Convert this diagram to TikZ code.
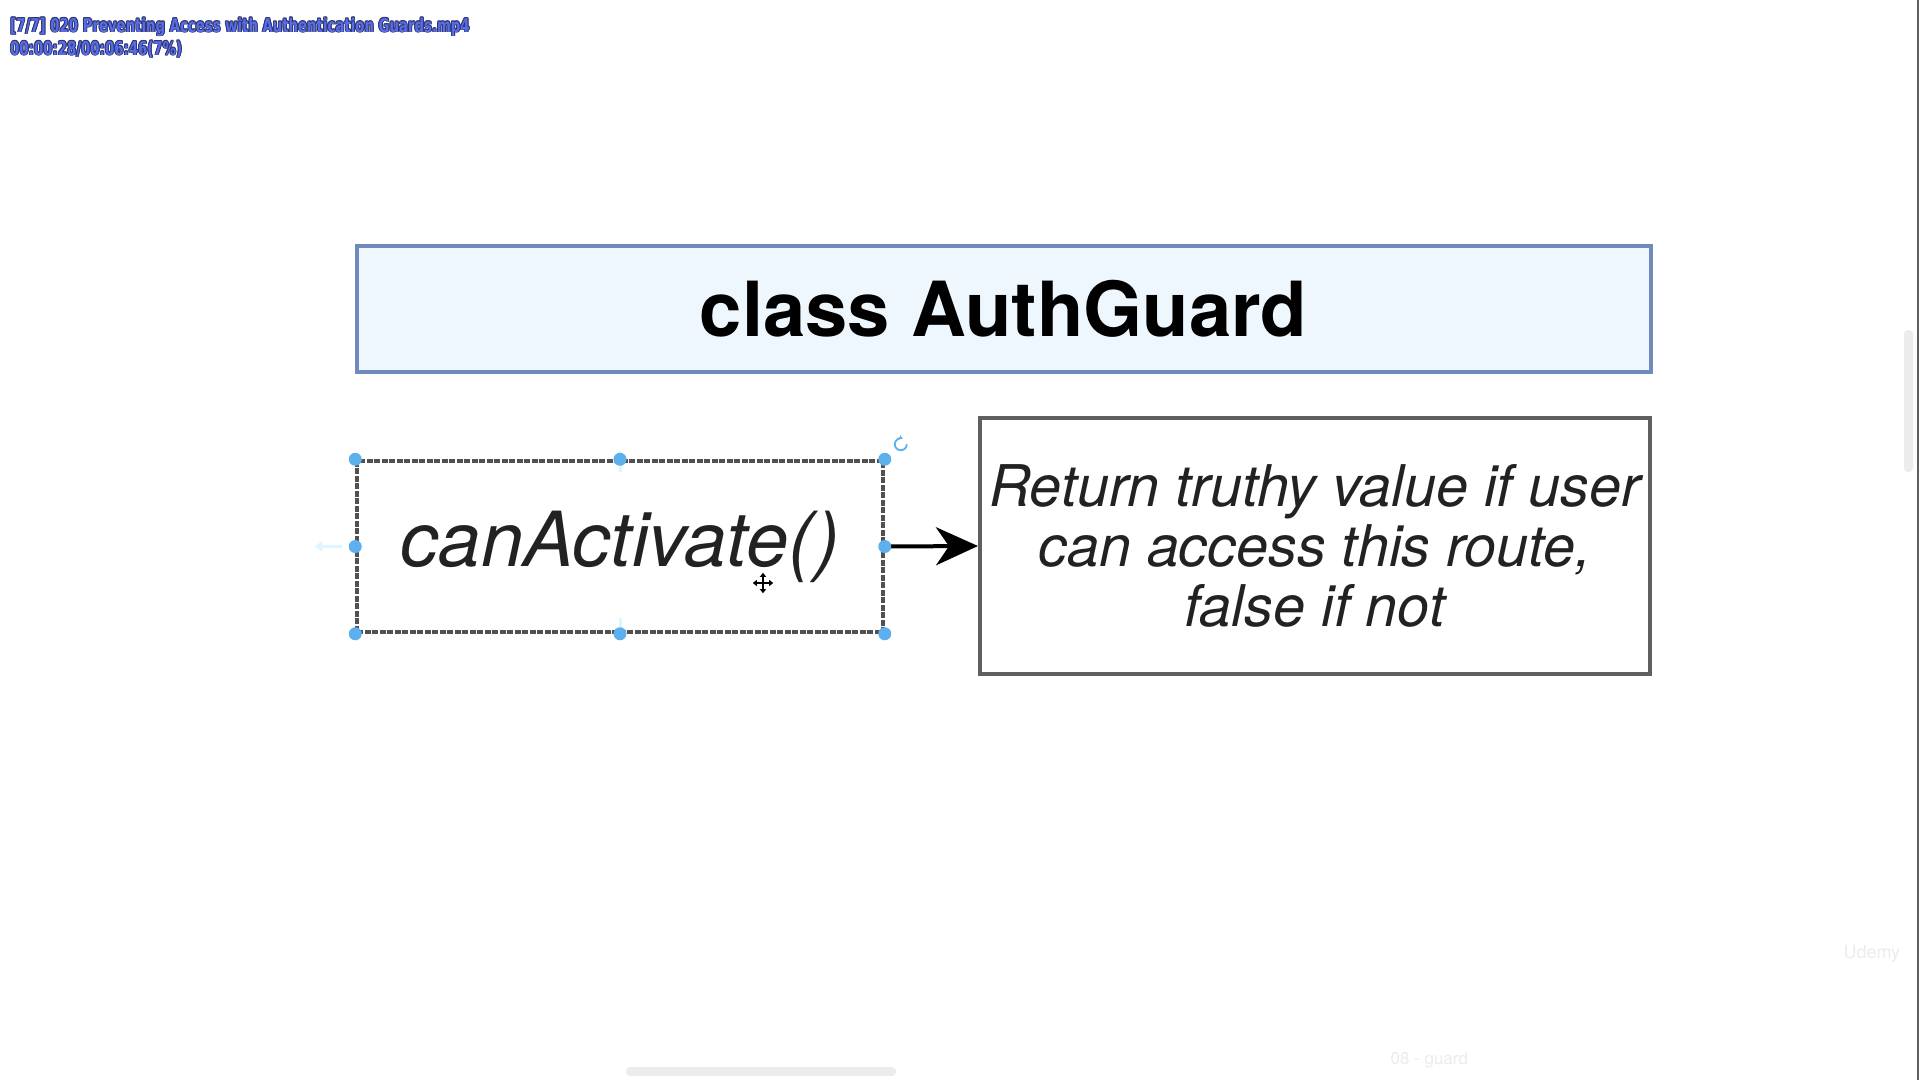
\documentclass[tikz,border=0pt]{standalone}
\usepackage{fontspec}
\setmainfont{TeX Gyre Heros}
\newfontfamily\osdfont[FakeStretch=0.70]{DejaVu Sans}
\usetikzlibrary{arrows.meta}

\definecolor{titleblue}{RGB}{112,138,190}
\definecolor{titlefill}{RGB}{239,247,254}
\definecolor{boxgray}{RGB}{95,95,95}
\definecolor{inkgray}{RGB}{34,34,34}
\definecolor{handleblue}{RGB}{92,176,238}
\definecolor{ghostcyan}{RGB}{222,246,255}
\definecolor{osdblue}{RGB}{88,108,232}
\definecolor{osdedge}{RGB}{45,52,110}
\definecolor{faintgray}{RGB}{236,236,236}

\tikzset{
  titlebox/.style={draw=titleblue, fill=titlefill, line width=4pt,
    minimum width=1294pt, minimum height=126pt, inner sep=0pt,
    font=\bfseries\fontsize{76}{80}\selectfont},
  methodbox/.style={draw=boxgray!85!black, line width=3.5pt, dash pattern=on 6pt off 1.5pt,
    minimum width=526pt, minimum height=171pt, inner sep=0pt, text=inkgray,
    font=\itshape\fontsize{76}{80}\selectfont},
  resultbox/.style={draw=boxgray, line width=4pt,
    minimum width=670pt, minimum height=256pt, inner sep=0pt, text=inkgray,
    align=center, font=\itshape\fontsize{57.5}{60}\selectfont},
  ghost/.style={ghostcyan, line width=3pt, -{Triangle[length=8pt, width=10pt]}},
  osd/.style={anchor=base west, inner sep=0pt, font=\osdfont\bfseries\fontsize{19}{20}\selectfont}
}

\begin{document}
\begin{tikzpicture}[x=1pt, y=-1pt]
    \useasboundingbox (0,0) rectangle (1920,1080);
    \fill[white] (0,0) rectangle (1920,1080);

    % player overlay
    \foreach \dx/\dy in {-0.9/0, 0.9/0, 0/-0.9, 0/0.9, -0.7/-0.7, 0.7/0.7, -0.7/0.7, 0.7/-0.7} {
        \node[osd, text=osdedge] at (10+\dx, 32+\dy) {[7/7] 020 Preventing Access with Authentication Guards.mp4};
        \node[osd, text=osdedge] at (10+\dx, 55+\dy) {00:00:28/00:06:46(7\%)};
    }
    \node[osd, text=osdblue] (file) at (10, 32) {[7/7] 020 Preventing Access with Authentication Guards.mp4};
    \node[osd, text=osdblue] (time) at (10, 55) {00:00:28/00:06:46(7\%)};

    % boxes
    \node[titlebox] (authguard) at (1003.5, 308.5) {class AuthGuard};
    \node[methodbox] (guard) at (620, 546.5) {canActivate()};
    \node[resultbox] (result) at (1315, 546) {Return truthy value if user\\can access this route,\\false if not};

    \draw[line width=4pt, -{Stealth[length=42pt, width=38pt, inset=13pt]}] (guard.east) -- (result.west);

    % selection handles
    \draw[ghost] ([yshift=-13]guard.north) -- ++(0,-22);
    \draw[ghost] ([yshift=16]guard.south) -- ++(0,20);
    \draw[ghost] ([xshift=-13]guard.west) -- ++(-28,0);
    \foreach \a in {north west, north, north east, east, south east, south, south west, west}
        \fill[handleblue] (guard.\a) circle (6.5);
    \draw[handleblue, line width=1.8pt, -{Stealth[length=4pt, width=5pt]}]
        ([shift={(22,-15)}]guard.north east) arc (0:290:6);

    % move cursor
    \node[inner sep=0pt, minimum size=20pt] (cursor) at (763, 583) {};
    \draw[white, line width=3.5pt] (cursor.west) -- (cursor.east) (cursor.north) -- (cursor.south);
    \draw[black, line width=1.3pt, {Triangle[length=4pt, width=6pt]}-{Triangle[length=4pt, width=6pt]}] (cursor.west) -- (cursor.east);
    \draw[black, line width=1.3pt, {Triangle[length=4pt, width=6pt]}-{Triangle[length=4pt, width=6pt]}] (cursor.north) -- (cursor.south);

    % window chrome
    \fill[faintgray, rounded corners=4pt] (1904, 330) rectangle (1913, 472);
    \fill[faintgray, rounded corners=4pt] (626, 1067) rectangle (896, 1076);
    \draw[boxgray, line width=2pt] (1918, 0) -- (1918, 1080);
    \node[text=faintgray, font=\fontsize{18}{18}\selectfont, anchor=base west] (udemy) at (1840, 958) {Udemy};
    \node[text=faintgray, font=\fontsize{17}{17}\selectfont, anchor=base west] (slide) at (1387, 1064) {08 - guard};
\end{tikzpicture}
\end{document}
